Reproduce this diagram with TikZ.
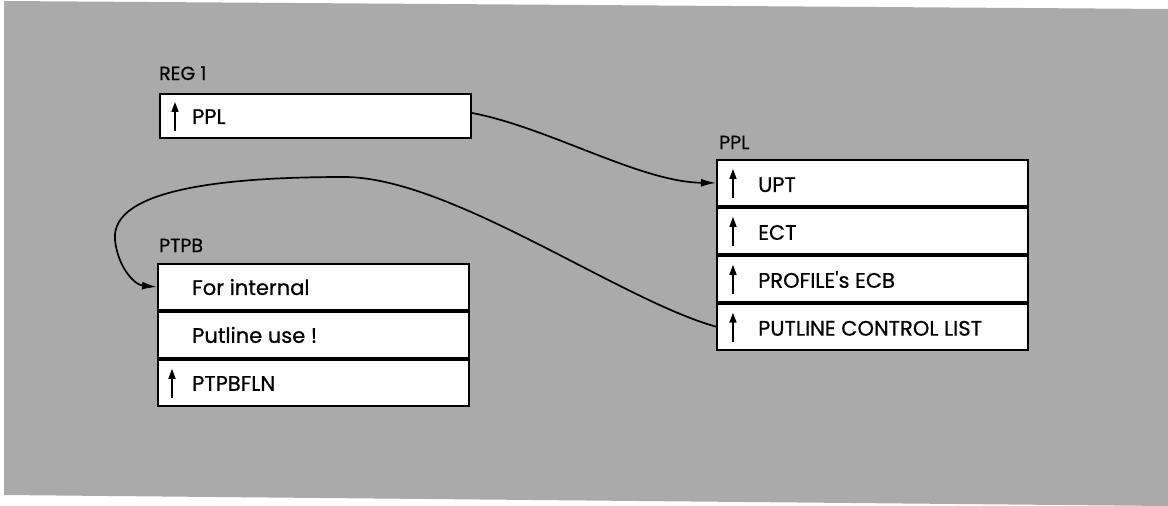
\documentclass[tikz,border=0pt]{standalone}
\usepackage{fontspec}
\setmainfont{Poppins}[FakeBold=0.6,AutoFakeBold=0.6]
\usetikzlibrary{arrows.meta}
\definecolor{bggray}{RGB}{170,170,170}
\begin{document}
\begin{tikzpicture}[x=1pt,y=-1pt,
  cell/.style={draw=black, fill=white, line width=1.9pt, minimum width=311pt, minimum height=46pt, inner sep=0pt, anchor=north west},
  txt/.style={anchor=base west, inner sep=0pt, font=\fontsize{21}{25}\selectfont\bfseries},
  ttl/.style={anchor=base west, inner sep=0pt, font=\fontsize{19}{23}\selectfont\bfseries},
  ptr/.style={line width=1.5pt, -{Triangle[length=10pt,width=7pt]}},
  link/.style={line width=1.7pt, -{Latex[length=15pt,width=8pt]}}]
\useasboundingbox (0,0) rectangle (1168,506);
\fill[bggray] (4,1) -- (1168,9) -- (1168,506) -- (4,495) -- cycle;

% REG 1
\node[ttl] (lreg) at (159,80) {REG 1};
\node[cell, minimum height=44pt] (reg) at (159,93) {};
\node[txt] (treg) at ([shift={(33,8)}]reg.west) {PPL};
\draw[ptr] ([shift={(16,15)}]reg.west) -- ([shift={(16,-14)}]reg.west);

% PPL
\node[ttl] (lppl) at (719,149) {PPL};
\node[cell] (upt) at (716,159) {};
\node[cell] (ect) at (upt.south west) {};
\node[cell] (prof) at (ect.south west) {};
\node[cell] (pcl) at (prof.south west) {};
\node[txt] (tupt) at ([shift={(42,9)}]upt.west) {UPT};
\node[txt] (tect) at ([shift={(42,9)}]ect.west) {ECT};
\node[txt] (tprof) at ([shift={(42,9)}]prof.west) {PROFILE\textquotesingle s ECB};
\node[txt] (tpcl) at ([shift={(42,9)}]pcl.west) {PUTLINE CONTROL LIST};
\foreach \r in {upt,ect,prof,pcl}
  \draw[ptr] ([shift={(17,15)}]\r.west) -- ([shift={(17,-14)}]\r.west);

% PTPB
\node[ttl] (lptpb) at (159,252) {PTPB};
\node[cell] (pta) at (157,263) {};
\node[cell] (ptb) at (pta.south west) {};
\node[cell] (ptc) at (ptb.south west) {};
\node[txt] (tpta) at ([shift={(35,8)}]pta.west) {For internal};
\node[txt] (tptb) at ([shift={(35,8)}]ptb.west) {Putline use !};
\node[txt] (tptc) at ([shift={(35,8)}]ptc.west) {PTPBFLN};
\draw[ptr] ([shift={(15,15)}]ptc.west) -- ([shift={(15,-14)}]ptc.west);

% connectors
\draw[link] ([yshift=3pt]reg.east) .. controls (550,128) and (640,182) .. (upt.west);
\draw[link] (pcl.west) .. controls (620,300) and (450,177) .. (344,177)
  .. controls (230,177) and (110,188) .. (115,240)
  .. controls (118,268) and (135,285) .. (pta.west);
\end{tikzpicture}
\end{document}
